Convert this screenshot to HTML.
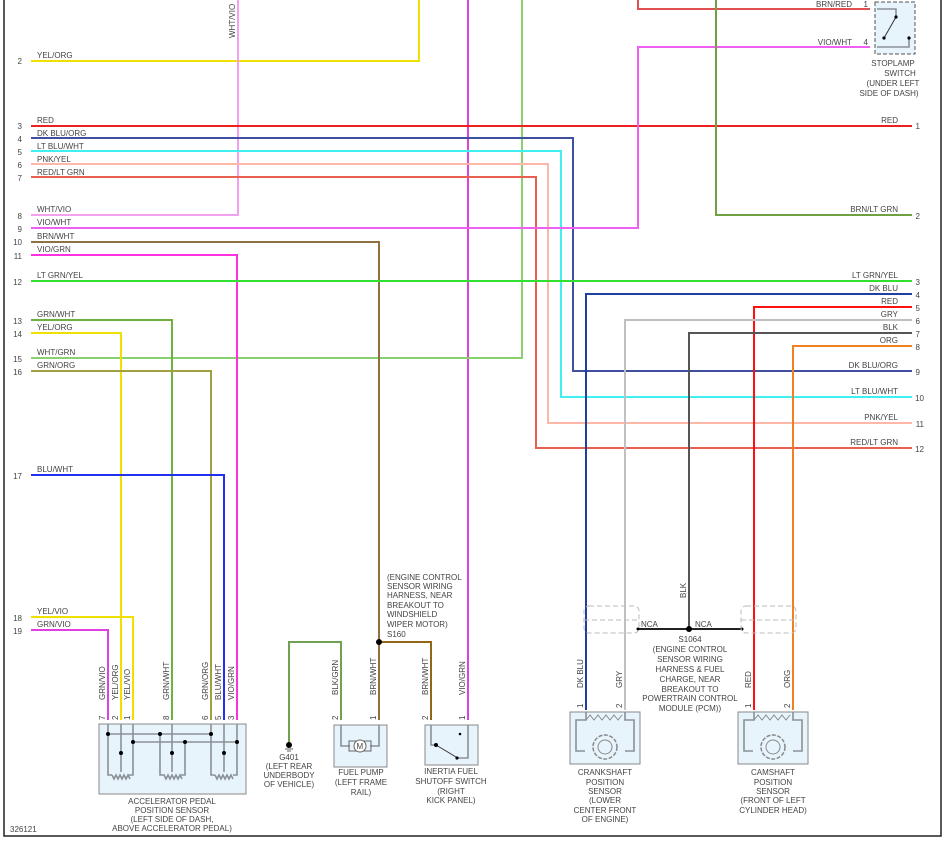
<!DOCTYPE html>
<html><head><meta charset="utf-8"><style>
html,body{margin:0;padding:0;background:#fff}
svg{display:block}
text{font-family:"Liberation Sans",sans-serif;font-size:8px;fill:#444}
.w{fill:none;stroke-width:2}
.g{fill:none;stroke:#8a9096;stroke-width:1.6}
</style></head><body>
<svg width="945" height="841" viewBox="0 0 945 841" xmlns="http://www.w3.org/2000/svg">
<rect x="4" y="-2" width="937" height="838" fill="#fff" stroke="#222" stroke-width="1.5"/>
<!-- left wires -->
<polyline class="w" stroke="#f0e000" points="31,61 419,61 419,0"/>
<polyline class="w" stroke="#f4a0f0" points="31,215 238,215 238,0"/>
<polyline class="w" stroke="#e040e0" points="468,0 468,720"/>
<polyline class="w" stroke="#88d070" points="31,358 522,358 522,0"/>
<polyline class="w" stroke="#ee2020" points="31,126 912,126"/>
<polyline class="w" stroke="#4050a0" points="31,138 573,138 573,371 912,371"/>
<polyline class="w" stroke="#40f0f0" points="31,151 561,151 561,397 912,397"/>
<polyline class="w" stroke="#ffb8a8" points="31,164 548,164 548,423 912,423"/>
<polyline class="w" stroke="#e86050" points="31,177 536,177 536,448 912,448"/>
<polyline class="w" stroke="#f060f0" points="31,228 638,228 638,47 870,47"/>
<polyline class="w" stroke="#e05050" points="638,0 638,9 870,9"/>
<polyline class="w" stroke="#907040" points="31,242 379,242 379,720"/>
<polyline class="w" stroke="#ff30e0" points="31,255 237,255 237,720"/>
<polyline class="w" stroke="#30e030" points="31,281 912,281"/>
<polyline class="w" stroke="#70b040" points="31,320 172,320 172,720"/>
<polyline class="w" stroke="#f0e000" points="31,333 121,333 121,720"/>
<polyline class="w" stroke="#a0a040" points="31,371 211,371 211,720"/>
<polyline class="w" stroke="#2030f0" points="31,475 224,475 224,720"/>
<polyline class="w" stroke="#f0e000" points="31,617 133,617 133,720"/>
<polyline class="w" stroke="#e040e0" points="31,630 108,630 108,720"/>
<!-- right wires -->
<polyline class="w" stroke="#70a040" points="716,0 716,215 912,215"/>
<polyline class="w" stroke="#2040a0" points="912,294 586,294 586,710"/>
<polyline class="w" stroke="#ff1010" points="912,307 754,307 754,710"/>
<polyline class="w" stroke="#c0c0c0" points="912,320 625,320 625,710"/>
<polyline class="w" stroke="#555" points="912,333 689,333 689,629"/>
<polyline class="w" stroke="#f08020" points="912,346 793,346 793,710"/>
<polyline class="w" stroke="#70a050" points="289,745 289,642 341,642 341,720"/>
<polyline class="w" stroke="#906818" points="379,642 431,642 431,720"/>
<line x1="638" y1="629" x2="742" y2="629" stroke="#222" stroke-width="2"/>
<circle cx="379" cy="642" r="3" fill="#000"/>
<circle cx="689" cy="629" r="3" fill="#000"/>
<circle cx="638" cy="629" r="1.5" fill="#000"/><circle cx="742" cy="629" r="1.5" fill="#000"/>
<!-- shields -->
<g fill="none" stroke="#bbb" stroke-dasharray="5,3">
<rect x="584" y="606" width="55" height="27" rx="5"/><line x1="584" y1="620" x2="639" y2="620"/>
<rect x="741" y="606" width="55" height="27" rx="5"/><line x1="741" y1="620" x2="796" y2="620"/>
</g>
<!-- left labels -->
<g>
<text x="22" y="64" text-anchor="end">2</text><text x="37" y="58">YEL/ORG</text>
<text x="22" y="129" text-anchor="end">3</text><text x="37" y="123">RED</text>
<text x="22" y="142" text-anchor="end">4</text><text x="37" y="136">DK BLU/ORG</text>
<text x="22" y="155" text-anchor="end">5</text><text x="37" y="149">LT BLU/WHT</text>
<text x="22" y="168" text-anchor="end">6</text><text x="37" y="162">PNK/YEL</text>
<text x="22" y="181" text-anchor="end">7</text><text x="37" y="175">RED/LT GRN</text>
<text x="22" y="219" text-anchor="end">8</text><text x="37" y="212">WHT/VIO</text>
<text x="22" y="232" text-anchor="end">9</text><text x="37" y="225">VIO/WHT</text>
<text x="22" y="245" text-anchor="end">10</text><text x="37" y="239">BRN/WHT</text>
<text x="22" y="259" text-anchor="end">11</text><text x="37" y="252">VIO/GRN</text>
<text x="22" y="285" text-anchor="end">12</text><text x="37" y="278">LT GRN/YEL</text>
<text x="22" y="324" text-anchor="end">13</text><text x="37" y="317">GRN/WHT</text>
<text x="22" y="337" text-anchor="end">14</text><text x="37" y="330">YEL/ORG</text>
<text x="22" y="362" text-anchor="end">15</text><text x="37" y="355">WHT/GRN</text>
<text x="22" y="375" text-anchor="end">16</text><text x="37" y="368">GRN/ORG</text>
<text x="22" y="479" text-anchor="end">17</text><text x="37" y="472">BLU/WHT</text>
<text x="22" y="621" text-anchor="end">18</text><text x="37" y="614">YEL/VIO</text>
<text x="22" y="634" text-anchor="end">19</text><text x="37" y="627">GRN/VIO</text>
<text transform="translate(235,38) rotate(-90)">WHT/VIO</text>
</g>
<!-- right labels -->
<g text-anchor="end">
<text x="898" y="123">RED</text><text x="920" y="129">1</text>
<text x="898" y="212">BRN/LT GRN</text><text x="920" y="219">2</text>
<text x="898" y="278">LT GRN/YEL</text><text x="920" y="285">3</text>
<text x="898" y="291">DK BLU</text><text x="920" y="298">4</text>
<text x="898" y="304">RED</text><text x="920" y="311">5</text>
<text x="898" y="317">GRY</text><text x="920" y="324">6</text>
<text x="898" y="330">BLK</text><text x="920" y="337">7</text>
<text x="898" y="343">ORG</text><text x="920" y="350">8</text>
<text x="898" y="368">DK BLU/ORG</text><text x="920" y="375">9</text>
<text x="898" y="394">LT BLU/WHT</text><text x="924" y="401">10</text>
<text x="898" y="420">PNK/YEL</text><text x="924" y="427">11</text>
<text x="898" y="445">RED/LT GRN</text><text x="924" y="452">12</text>
<text x="852" y="7">BRN/RED</text><text x="868" y="7">1</text>
<text x="852" y="45">VIO/WHT</text><text x="868" y="45">4</text>
</g>
<!-- stoplamp -->
<rect x="875" y="2" width="40" height="52" fill="#e8f4fc" stroke="#555" stroke-dasharray="4,2"/>
<polyline class="g" points="877,9 896,9 896,17"/><polyline class="g" points="877,47 909,47 909,38"/>
<line x1="896" y1="17" x2="884" y2="38" stroke="#333"/><circle cx="896" cy="17" r="1.6"/><circle cx="884" cy="38" r="1.6"/><circle cx="909" cy="38" r="1.6"/>
<g text-anchor="middle"><text x="893" y="66">STOPLAMP</text><text x="900" y="76">SWITCH</text><text x="893" y="86">(UNDER LEFT</text><text x="889" y="96">SIDE OF DASH)</text></g>
<!-- APPS -->
<rect x="99" y="724" width="147" height="70" fill="#e8f4fc" stroke="#888"/>
<g class="g">
<polyline points="108,724 108,775 112,775"/><polyline points="121,724 121,772"/><polyline points="133,724 133,775 129,775"/>
<line x1="108" y1="734" x2="211" y2="734"/><line x1="133" y1="742" x2="237" y2="742"/>
<polyline points="160,734 160,775 165,775"/><polyline points="172,724 172,772"/><polyline points="185,742 185,775 181,775"/>
<polyline points="211,724 211,775 215,775"/><polyline points="224,724 224,772"/><polyline points="237,724 237,775 233,775"/>
<polyline points="112,775 114,779 116,775 118,779 120,775 122,779 124,775 126,779 128,775 130,779"/>
<polyline points="164,775 166,779 168,775 170,779 172,775 174,779 176,775 178,779 180,775 182,779"/>
<polyline points="215,775 217,779 219,775 221,779 223,775 225,779 227,775 229,779 231,775 233,779"/>
</g>
<g fill="#000"><circle cx="108" cy="734" r="2"/><circle cx="160" cy="734" r="2"/><circle cx="211" cy="734" r="2"/><circle cx="133" cy="742" r="2"/><circle cx="185" cy="742" r="2"/><circle cx="237" cy="742" r="2"/><circle cx="121" cy="753" r="2"/><circle cx="172" cy="753" r="2"/><circle cx="224" cy="753" r="2"/></g>
<g>
<text transform="translate(105,700) rotate(-90)">GRN/VIO</text><text transform="translate(118,700) rotate(-90)">YEL/ORG</text><text transform="translate(130,700) rotate(-90)">YEL/VIO</text><text transform="translate(169,700) rotate(-90)">GRN/WHT</text><text transform="translate(208,700) rotate(-90)">GRN/ORG</text><text transform="translate(221,700) rotate(-90)">BLU/WHT</text><text transform="translate(234,700) rotate(-90)">VIO/GRN</text>
<text transform="translate(105,720) rotate(-90)">7</text><text transform="translate(118,720) rotate(-90)">2</text><text transform="translate(130,720) rotate(-90)">1</text><text transform="translate(169,720) rotate(-90)">8</text><text transform="translate(208,720) rotate(-90)">6</text><text transform="translate(221,720) rotate(-90)">5</text><text transform="translate(234,720) rotate(-90)">3</text>
<text transform="translate(338,695) rotate(-90)">BLK/GRN</text><text transform="translate(376,695) rotate(-90)">BRN/WHT</text><text transform="translate(428,695) rotate(-90)">BRN/WHT</text><text transform="translate(465,695) rotate(-90)">VIO/GRN</text>
<text transform="translate(338,720) rotate(-90)">2</text><text transform="translate(376,720) rotate(-90)">1</text><text transform="translate(428,720) rotate(-90)">2</text><text transform="translate(465,720) rotate(-90)">1</text>
<text transform="translate(583,688) rotate(-90)">DK BLU</text><text transform="translate(622,688) rotate(-90)">GRY</text><text transform="translate(751,688) rotate(-90)">RED</text><text transform="translate(790,688) rotate(-90)">ORG</text>
<text transform="translate(583,708) rotate(-90)">1</text><text transform="translate(622,708) rotate(-90)">2</text><text transform="translate(751,708) rotate(-90)">1</text><text transform="translate(790,708) rotate(-90)">2</text>
<text transform="translate(686,598) rotate(-90)">BLK</text>
</g>
<g text-anchor="middle">
<text x="172" y="804">ACCELERATOR PEDAL</text><text x="172" y="813">POSITION SENSOR</text><text x="172" y="822">(LEFT SIDE OF DASH,</text><text x="172" y="831">ABOVE ACCELERATOR PEDAL)</text>
<text x="289" y="760">G401</text><text x="289" y="769">(LEFT REAR</text><text x="289" y="778">UNDERBODY</text><text x="289" y="787">OF VEHICLE)</text>
<text x="361" y="775">FUEL PUMP</text><text x="361" y="785">(LEFT FRAME</text><text x="361" y="795">RAIL)</text>
<text x="451" y="774">INERTIA FUEL</text><text x="451" y="784">SHUTOFF SWITCH</text><text x="451" y="794">(RIGHT</text><text x="451" y="803">KICK PANEL)</text>
<text x="605" y="775">CRANKSHAFT</text><text x="605" y="785">POSITION</text><text x="605" y="794">SENSOR</text><text x="605" y="803">(LOWER</text><text x="605" y="813">CENTER FRONT</text><text x="605" y="822">OF ENGINE)</text>
<text x="773" y="775">CAMSHAFT</text><text x="773" y="785">POSITION</text><text x="773" y="794">SENSOR</text><text x="773" y="803">(FRONT OF LEFT</text><text x="773" y="813">CYLINDER HEAD)</text>
<text x="690" y="642">S1064</text><text x="690" y="652">(ENGINE CONTROL</text><text x="690" y="662">SENSOR WIRING</text><text x="690" y="672">HARNESS &amp; FUEL</text><text x="690" y="682">CHARGE, NEAR</text><text x="690" y="692">BREAKOUT TO</text><text x="690" y="701">POWERTRAIN CONTROL</text><text x="690" y="711">MODULE (PCM))</text>
</g>
<text x="641" y="627">NCA</text><text x="695" y="627">NCA</text>
<g><text x="387" y="580">(ENGINE CONTROL</text><text x="387" y="589">SENSOR WIRING</text><text x="387" y="598">HARNESS, NEAR</text><text x="387" y="608">BREAKOUT TO</text><text x="387" y="617">WINDSHIELD</text><text x="387" y="627">WIPER MOTOR)</text><text x="387" y="637">S160</text></g>
<text x="10" y="832">326121</text>
<!-- ground -->
<circle cx="289" cy="745" r="3" fill="#000"/><line x1="285" y1="749" x2="293" y2="749" stroke="#666"/><line x1="287" y1="751" x2="291" y2="751" stroke="#666"/>
<!-- fuel pump -->
<rect x="334" y="725" width="53" height="42" fill="#e8f4fc" stroke="#888"/>
<polyline class="g" points="341,725 341,746 350,746"/><polyline class="g" points="379,725 379,746 370,746"/>
<rect x="349" y="741" width="22" height="10" fill="none" stroke="#666"/><circle cx="360" cy="746" r="6" fill="#fff" stroke="#666"/><text x="356.5" y="749">M</text>
<!-- inertia -->
<rect x="425" y="725" width="53" height="40" fill="#e8f4fc" stroke="#888"/>
<polyline class="g" points="431,725 431,745 436,745"/><polyline class="g" points="468,725 468,758 457,758"/>
<line x1="436" y1="745" x2="456" y2="757" stroke="#333"/><circle cx="436" cy="745" r="2"/><circle cx="457" cy="758" r="1.6"/><circle cx="460" cy="734" r="1.3"/>
<!-- crank & cam -->
<g id="s">
<rect x="570" y="712" width="70" height="52" fill="#e8f4fc" stroke="#888"/>
<polyline class="g" points="586,712 586,720 576,720 576,751 585,751"/><polyline class="g" points="625,712 625,720 634,720 634,751 625,751"/>
<polyline fill="none" stroke="#888" points="586,720 590,715 594,720 598,715 602,720 606,715 610,720 614,715 618,720 622,715"/>
<circle cx="605" cy="747" r="12" fill="none" stroke="#888" stroke-width="1.5" stroke-dasharray="4,1.5"/><circle cx="605" cy="747" r="7" fill="none" stroke="#888"/>
</g>
<use href="#s" x="168"/>
</svg>
</body></html>
